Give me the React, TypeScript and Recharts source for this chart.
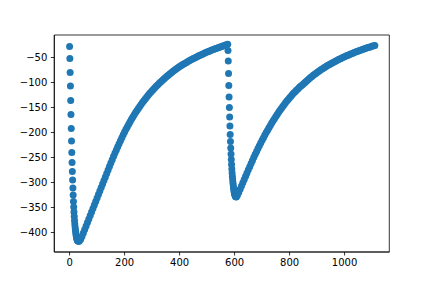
import { ScatterChart, Scatter, XAxis, YAxis, ReferenceArea } from 'recharts';

// 第一次下降：x = 0, 1, 2, ...
const firstDrop = [
  -28, -52, -80, -107, -136, -164, -192, -217, -240, -260, -278, -295, -311, -325, -338, -349,
  -359, -368, -376, -383, -389, -394, -398.5, -402.5, -406, -409, -411.5, -413.5, -415, -416,
  -416.7, -417.1, -417.3,
];
const firstDropStart = 0;

// 第一次回升：x = 35, 40, 45, ...
const firstRise = [
  -417.5, -414, -408, -401, -394, -387, -380, -373, -366, -359, -352, -345, -338, -331, -324,
  -317, -310, -303, -296, -289, -282, -275, -268, -261, -254.3, -247.7, -241.2, -234.8, -228.5,
  -222.3, -216.3, -210.4, -204.6, -199, -193.6, -188.4, -183.3, -178.4, -173.6, -169, -164.5,
  -160.1, -155.9, -151.8, -147.8, -143.9, -140.1, -136.4, -132.8, -129.3, -125.9, -122.6,
  -119.4, -116.3, -113.3, -110.4, -107.6, -104.9, -102.2, -99.6, -97, -94.5, -92, -89.6, -87.2,
  -84.9, -82.6, -80.4, -78.2, -76, -73.9, -71.9, -69.9, -68, -66.3, -64.6, -63, -61.4, -59.8,
  -58.2, -56.6, -55, -53.6, -52.2, -50.8, -49.4, -48, -46.7, -45.4, -44.1, -42.8, -41.5, -40.2,
  -39, -37.9, -36.8, -35.7, -34.6, -33.5, -32.4, -31.3, -30.3, -29.3, -28.3, -27.3, -26.3,
  -25.3, -24.4, -23.5,
];
const firstRiseStart = 35;

// 第二次下降：x = 576, 577, ...
const secondDrop = [
  -36, -57, -82, -106, -129, -150, -169, -187, -204, -218, -231, -243, -254, -264, -273, -281,
  -288, -294, -300, -305, -309.5, -313.5, -317, -320, -322.5, -324.5, -326, -327.2, -328,
  -328.5, -328.8,
];
const secondDropStart = 576;

// 第二次回升：x = 610, 615, ...
const secondRise = [
  -326, -320, -313.5, -307, -300.5, -294, -287.5, -281, -274.6, -268.3, -262, -255.8, -249.7,
  -243.7, -237.8, -232, -226.4, -220.9, -215.5, -210.3, -205.2, -200.2, -195.3, -190.5, -185.8,
  -181.2, -176.7, -172.3, -168, -163.8, -159.7, -155.7, -151.8, -148, -144.3, -140.7, -137.2,
  -133.8, -130.5, -127.3, -124.2, -121.2, -118.3, -115.5, -112.8, -110.2, -107.7, -105.3, -103,
  -100.4, -97.8, -95.3, -92.9, -90.6, -88.3, -86.1, -84, -81.9, -79.9, -77.9, -76, -74.1, -72.3,
  -70.5, -68.8, -67.1, -65.5, -63.9, -62.3, -60.8, -59.3, -57.8, -56.4, -55, -53.6, -52.3, -51,
  -49.7, -48.4, -47.2, -46, -44.8, -43.6, -42.4, -41.3, -40.2, -39.1, -38, -37, -36, -35, -34,
  -33, -32, -31.1, -30.2, -29.3, -28.4, -27.5, -26.6, -25.8,
];
const secondRiseStart = 610;

const xTicks = [0, 200, 400, 600, 800, 1000];
const yTicks = [-400, -350, -300, -250, -200, -150, -100, -50];
const xDomain = [-55.6, 1162.6];
const yDomain = [-439, -5];

const toPoints = (ys: number[], start: number, step: number) =>
  ys.map((y, i) => ({ x: start + i * step, y }));

const data = [
  ...toPoints(firstDrop, firstDropStart, 1),
  ...toPoints(firstRise, firstRiseStart, 5),
  ...toPoints(secondDrop, secondDropStart, 1),
  ...toPoints(secondRise, secondRiseStart, 5),
];

const BLUE = '#1f77b4';
const FONT = 'DejaVu Sans';
const fmt = (v: number) => (v < 0 ? '\u2212' + Math.abs(v) : String(v));

const Dot = (props: any) => <circle cx={props.cx} cy={props.cy} r={3.5} fill={BLUE} />;

export default function App() {
  const tick = { fontSize: 10, fontFamily: FONT, fill: '#000' };
  const line = { stroke: '#000', strokeWidth: 0.8 };
  return (
    <div style={{ position: 'absolute', left: 0, top: 0, background: '#fff' }}>
      <ScatterChart width={432} height={288} margin={{ top: 35, right: 42.7, bottom: 6, left: 0 }}>
        <XAxis
          type="number"
          dataKey="x"
          domain={xDomain}
          ticks={xTicks}
          tickFormatter={fmt}
          tick={tick}
          tickSize={3.5}
          tickMargin={3.5}
          axisLine={line}
          tickLine={line}
          height={30}
          allowDataOverflow
        />
        <YAxis
          type="number"
          dataKey="y"
          domain={yDomain}
          ticks={yTicks}
          tickFormatter={fmt}
          tick={tick}
          tickSize={3.5}
          tickMargin={3.5}
          axisLine={line}
          tickLine={line}
          width={54.3}
          allowDataOverflow
        />
        <Scatter data={data} shape={Dot} isAnimationActive={false} />
        {/* 外框 */}
        <ReferenceArea
          x1={xDomain[0]}
          x2={xDomain[1]}
          y1={yDomain[0]}
          y2={yDomain[1]}
          fill="none"
          stroke="#000"
          strokeWidth={0.8}
          ifOverflow="visible"
        />
      </ScatterChart>
    </div>
  );
}
